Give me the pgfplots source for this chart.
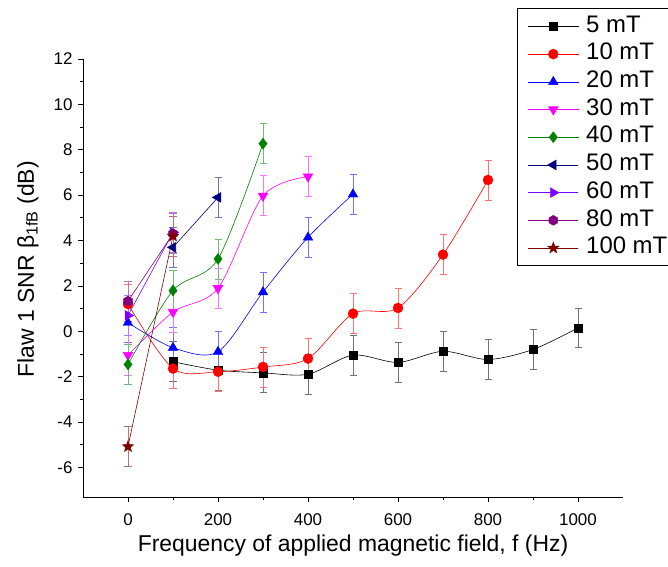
\documentclass[border=0pt]{standalone}
\usepackage{fontspec}
\setmainfont{Liberation Sans}
\usepackage{pgfplots}
\pgfplotsset{compat=1.18}

\definecolor{cA}{HTML}{000000}
\definecolor{cB}{HTML}{FF0000}
\definecolor{cC}{HTML}{0000FF}
\definecolor{cD}{HTML}{FF00FF}
\definecolor{cE}{HTML}{008000}
\definecolor{cF}{HTML}{000080}
\definecolor{cG}{HTML}{8000FF}
\definecolor{cH}{HTML}{800080}
\definecolor{cI}{HTML}{800000}

% filled star and hexagon marks
\pgfdeclareplotmark{fstar}{%
  \pgfpathmoveto{\pgfpointpolar{90}{1.2\pgfplotmarksize}}%
  \pgfpathlineto{\pgfpointpolar{126}{0.5\pgfplotmarksize}}%
  \pgfpathlineto{\pgfpointpolar{162}{1.2\pgfplotmarksize}}%
  \pgfpathlineto{\pgfpointpolar{198}{0.5\pgfplotmarksize}}%
  \pgfpathlineto{\pgfpointpolar{234}{1.2\pgfplotmarksize}}%
  \pgfpathlineto{\pgfpointpolar{270}{0.5\pgfplotmarksize}}%
  \pgfpathlineto{\pgfpointpolar{306}{1.2\pgfplotmarksize}}%
  \pgfpathlineto{\pgfpointpolar{342}{0.5\pgfplotmarksize}}%
  \pgfpathlineto{\pgfpointpolar{18}{1.2\pgfplotmarksize}}%
  \pgfpathlineto{\pgfpointpolar{54}{0.5\pgfplotmarksize}}%
  \pgfpathclose\pgfusepathqfillstroke}
\pgfdeclareplotmark{hexa}{%
  \pgfpathmoveto{\pgfpointpolar{30}{\pgfplotmarksize}}%
  \pgfpathlineto{\pgfpointpolar{90}{\pgfplotmarksize}}%
  \pgfpathlineto{\pgfpointpolar{150}{\pgfplotmarksize}}%
  \pgfpathlineto{\pgfpointpolar{210}{\pgfplotmarksize}}%
  \pgfpathlineto{\pgfpointpolar{270}{\pgfplotmarksize}}%
  \pgfpathlineto{\pgfpointpolar{330}{\pgfplotmarksize}}%
  \pgfpathclose\pgfusepathqfillstroke}

\pgfplotsset{
  ser/.style={color=#1, line width=0.6pt,
    mark options={solid, fill=#1, draw=#1, line width=0.4pt},
    error bars/y dir=both, error bars/y fixed=0.88,
    error bars/error mark=-,
    error bars/error bar style={draw=#1!55, line width=0.8pt},
    error bars/error mark options={rotate=90, draw=#1!55, line width=0.8pt, mark size=3.5bp}},
}

\begin{document}
\begin{tikzpicture}
\begin{axis}[
  name=ax,
  scale only axis,
  width=540bp, height=438bp,
  xmin=-100, xmax=1100,
  ymin=-7.3, ymax=12,
  axis x line*=bottom, axis y line*=left,
  axis line style={line width=0.9bp},
  xtick={0,200,...,1000},
  ytick={-6,-4,...,12},
  minor x tick num=1, minor y tick num=1,
  tick align=outside,
  major tick length=5bp, minor tick length=3bp,
  tick style={black, line width=0.8bp},
  /pgf/number format/assume math mode=true,
  /pgf/number format/1000 sep={},
  ticklabel style={font=\fontsize{17}{17}\selectfont},
  xticklabel style={yshift=-8bp},
  yticklabel style={xshift=-2bp},
  xlabel={Frequency of applied magnetic field, f (Hz)},
  ylabel={Flaw 1 SNR β\textsubscript{1fB} (dB)},
  label style={font=\fontsize{23}{23}\selectfont},
  xlabel style={at={(axis description cs:0.5,-0.112)}, anchor=center},
  ylabel style={at={(axis description cs:-0.102,0.52)}, anchor=center},
  legend style={at={(axis description cs:0.803,1.116)}, anchor=north west,
    draw=black, line width=0.8bp, inner xsep=11bp, inner ysep=4bp,
    font=\fontsize{24}{24}\selectfont, row sep=0pt,
    nodes={inner sep=2.6bp, text height=17bp, text depth=5.5bp}},
  legend cell align=left,
  legend image code/.code={\draw[mark repeat=2,mark phase=2]
    plot coordinates {(0bp,0bp) (25bp,0bp) (50bp,0bp)};},
  mark size=4.5bp,
]
\addplot[ser=cA, smooth, mark=square*, mark size=4.2bp] coordinates {
  (100,-1.34) (200,-1.71) (300,-1.83) (400,-1.89) (500,-1.05)
  (600,-1.37) (700,-0.88) (800,-1.24) (900,-0.80) (1000,0.15)};
\addplot[ser=cB, smooth, mark=*, mark size=5bp] coordinates {
  (0,1.2) (100,-1.64) (200,-1.78) (300,-1.57) (400,-1.2)
  (500,0.78) (600,1.03) (700,3.38) (800,6.67)};
\addplot[ser=cC, smooth, mark=triangle*, mark size=5.5bp] coordinates {
  (0,0.38) (100,-0.72) (200,-0.9) (300,1.73) (400,4.14) (500,6.04)};
\addplot[ser=cD, smooth, mark=triangle*, mark size=5.5bp,
  mark options={rotate=180}] coordinates {
  (0,-1.05) (100,0.85) (200,1.9) (300,5.97) (400,6.82)};
\addplot[ser=cE, smooth, mark=diamond*, mark size=5.5bp] coordinates {
  (0,-1.46) (100,1.8) (200,3.19) (300,8.27)};
\addplot[ser=cF, mark=triangle*, mark size=5.5bp,
  mark options={rotate=90}] coordinates {
  (100,3.7) (200,5.9)};
\addplot[ser=cG, mark=triangle*, mark size=5.5bp,
  mark options={rotate=-90}] coordinates {
  (0,0.7) (100,4.36)};
\addplot[ser=cH, mark=hexa, mark size=5bp] coordinates {
  (0,1.33) (100,4.3)};
\addplot[ser=cI, mark=fstar, mark size=5bp] coordinates {
  (0,-5.08) (100,4.2)};
\legend{\hspace{5bp}5 mT, \hspace{5bp}10 mT, \hspace{5bp}20 mT,
  \hspace{5bp}30 mT, \hspace{5bp}40 mT, \hspace{5bp}50 mT,
  \hspace{5bp}60 mT, \hspace{5bp}80 mT, \hspace{5bp}100 mT}
\end{axis}
\pgfresetboundingbox
\path[use as bounding box] ([xshift=-83bp,yshift=-70bp]ax.south west)
  rectangle ([xshift=45bp,yshift=59bp]ax.north east);
\end{tikzpicture}
\end{document}
